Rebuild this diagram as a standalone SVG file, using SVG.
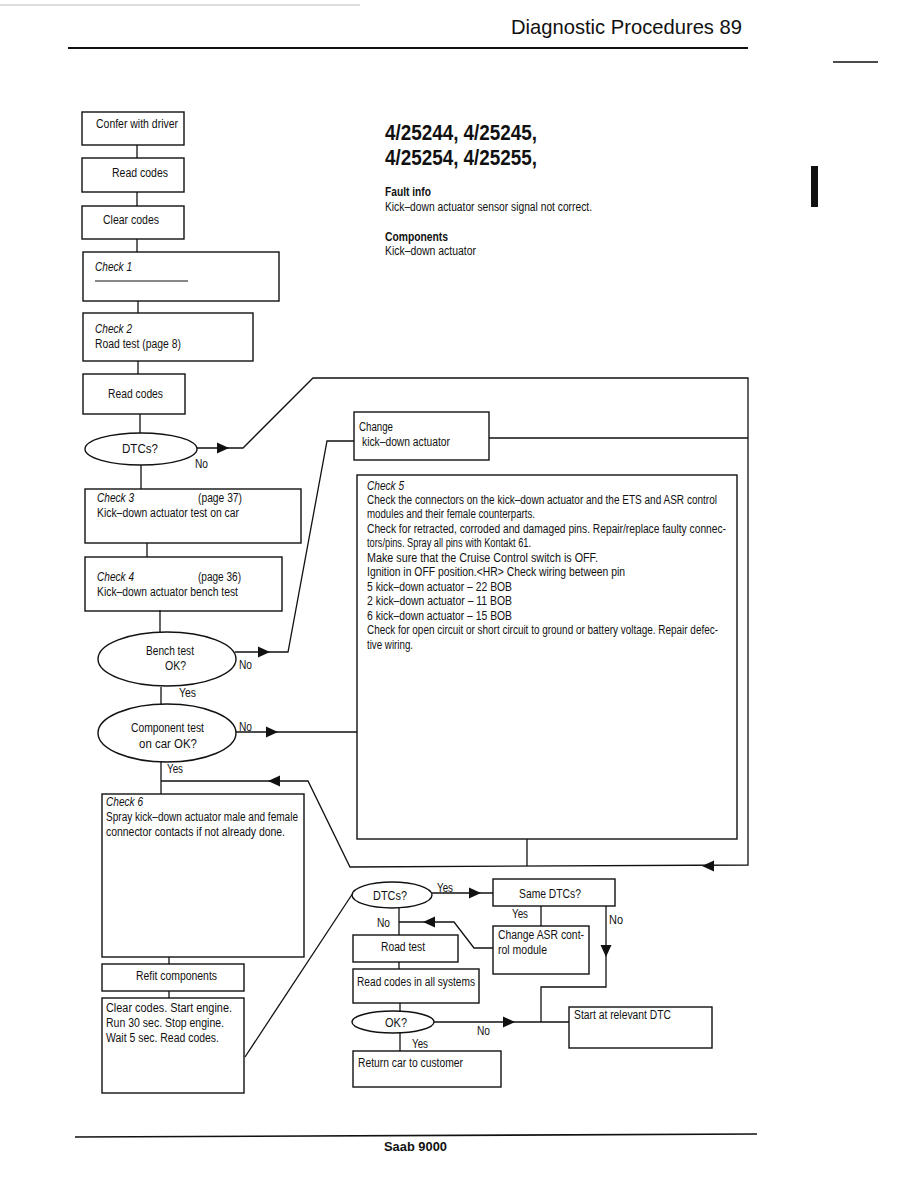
<svg xmlns="http://www.w3.org/2000/svg" xmlns:xlink="http://www.w3.org/1999/xlink" width="918" height="1188" viewBox="0 0 918 1188">
<style>
.bx{fill:none;stroke:#111;stroke-width:1.4}
.ln{fill:none;stroke:#111;stroke-width:1.3}
.t{font-family:"Liberation Sans",Arial,sans-serif;font-size:12.5px;fill:#111}
.i{font-style:italic}
.b{font-weight:bold}
.h{font-size:21.5px}
</style>
<defs>
<path id="ah" d="M0,0 L-12,-5.5 L-12,5.5 Z" fill="#111"/>
</defs>
<rect width="918" height="1188" fill="#fff"/>

<g id="page">
<line x1="0" y1="5" x2="360" y2="5" stroke="#bbb" stroke-width="1"/>
<text class="t" x="511" y="34" style="font-size:21px" textLength="231" lengthAdjust="spacingAndGlyphs">Diagnostic Procedures  89</text>
<line x1="68" y1="48" x2="748" y2="48" stroke="#111" stroke-width="2"/>
<line x1="833" y1="62" x2="878" y2="62" stroke="#111" stroke-width="1.5"/>
<rect x="811" y="166" width="7" height="41" fill="#111"/>
<line x1="75" y1="1137" x2="757" y2="1134" stroke="#111" stroke-width="1.6"/>
<text class="t b" x="384" y="1151" textLength="63" lengthAdjust="spacingAndGlyphs">Saab 9000</text>
</g>

<g id="info">
<text class="t b h" x="385" y="140" textLength="152" lengthAdjust="spacingAndGlyphs">4/25244,  4/25245,</text>
<text class="t b h" x="385" y="165" textLength="152" lengthAdjust="spacingAndGlyphs">4/25254,  4/25255,</text>
<text class="t b" x="385" y="196" textLength="46" lengthAdjust="spacingAndGlyphs">Fault info</text>
<text class="t" x="385" y="211" textLength="207" lengthAdjust="spacingAndGlyphs">Kick–down actuator sensor signal not correct.</text>
<text class="t b" x="385" y="241" textLength="63" lengthAdjust="spacingAndGlyphs">Components</text>
<text class="t" x="385" y="255" textLength="91" lengthAdjust="spacingAndGlyphs">Kick–down actuator</text>
</g>

<g id="connectors">
<polyline class="ln" points="137,145 137,158"/>
<polyline class="ln" points="137,192 137,206"/>
<polyline class="ln" points="137,239 137,252"/>
<polyline class="ln" points="138,301 138,313"/>
<polyline class="ln" points="138,361 138,374"/>
<polyline class="ln" points="140,414 140,433"/>
<polyline class="ln" points="141,465 141,489"/>
<polyline class="ln" points="147,543 147,557"/>
<polyline class="ln" points="160,610 160,632"/>
<polyline class="ln" points="161,687 161,704"/>
<polyline class="ln" points="161,762 161,794"/>
<polyline class="ln" points="169,957 169,964"/>
<polyline class="ln" points="169,991 169,998"/>
<polyline class="ln" points="197,448 243,448 313,378 748,378 748,865 350,867 308,781 161,781"/>
<polyline class="ln" points="489,438 748,438"/>
<polyline class="ln" points="354,441 327,441 288,652 235,652"/>
<polyline class="ln" points="236,732 357,732"/>
<polyline class="ln" points="527,839 527,866"/>
<polyline class="ln" points="245,1057 353,893"/>
<polyline class="ln" points="432,893 493,893"/>
<polyline class="ln" points="541,906 541,926"/>
<polyline class="ln" points="606,906 606,987 541,987 541,1022"/>
<polyline class="ln" points="493,948 474,948 454,922 399,922"/>
<polyline class="ln" points="399,908 399,935"/>
<polyline class="ln" points="399,962 399,969"/>
<polyline class="ln" points="400,1003 400,1012"/>
<polyline class="ln" points="400,1033 400,1051"/>
<polyline class="ln" points="434,1022 569,1022"/>
<use xlink:href="#ah" transform="translate(229,448)"/>
<use xlink:href="#ah" transform="translate(270,652)"/>
<use xlink:href="#ah" transform="translate(278,732)"/>
<use xlink:href="#ah" transform="translate(268,781) rotate(180)"/>
<use xlink:href="#ah" transform="translate(702,866) rotate(180)"/>
<use xlink:href="#ah" transform="translate(481,893)"/>
<use xlink:href="#ah" transform="translate(423,922) rotate(180)"/>
<use xlink:href="#ah" transform="translate(606,957) rotate(90)"/>
<use xlink:href="#ah" transform="translate(515,1022)"/>
<text class="t" x="195" y="468" textLength="13" lengthAdjust="spacingAndGlyphs">No</text>
<text class="t" x="239" y="669" textLength="13" lengthAdjust="spacingAndGlyphs">No</text>
<text class="t" x="179" y="697" textLength="17" lengthAdjust="spacingAndGlyphs">Yes</text>
<text class="t" x="239" y="731" textLength="13" lengthAdjust="spacingAndGlyphs">No</text>
<text class="t" x="167" y="773" textLength="16" lengthAdjust="spacingAndGlyphs">Yes</text>
<text class="t" x="437" y="892" textLength="16" lengthAdjust="spacingAndGlyphs">Yes</text>
<text class="t" x="512" y="918" textLength="16" lengthAdjust="spacingAndGlyphs">Yes</text>
<text class="t" x="609" y="924" textLength="14" lengthAdjust="spacingAndGlyphs">No</text>
<text class="t" x="377" y="927" textLength="13" lengthAdjust="spacingAndGlyphs">No</text>
<text class="t" x="477" y="1035" textLength="13" lengthAdjust="spacingAndGlyphs">No</text>
<text class="t" x="412" y="1048" textLength="16" lengthAdjust="spacingAndGlyphs">Yes</text>
</g>

<g id="n_confer"><rect class="bx" x="82" y="112" width="102" height="33"/><text class="t" x="96" y="128" textLength="82" lengthAdjust="spacingAndGlyphs">Confer with driver</text></g>
<g id="n_read1"><rect class="bx" x="82" y="158" width="102" height="34"/><text class="t" x="112" y="177" textLength="56" lengthAdjust="spacingAndGlyphs">Read codes</text></g>
<g id="n_clear"><rect class="bx" x="82" y="206" width="102" height="33"/><text class="t" x="103" y="224" textLength="56" lengthAdjust="spacingAndGlyphs">Clear codes</text></g>
<g id="n_check1"><rect class="bx" x="83" y="252" width="196" height="49"/><text class="t i" x="95" y="271" textLength="37" lengthAdjust="spacingAndGlyphs">Check 1</text><line x1="95" y1="281" x2="188" y2="281" stroke="#111" stroke-width="1"/></g>
<g id="n_check2"><rect class="bx" x="83" y="313" width="170" height="48"/><text class="t i" x="95" y="333" textLength="37" lengthAdjust="spacingAndGlyphs">Check 2</text><text class="t" x="95" y="348" textLength="86" lengthAdjust="spacingAndGlyphs">Road test (page 8)</text></g>
<g id="n_read2"><rect class="bx" x="83" y="374" width="102" height="40"/><text class="t" x="108" y="398" textLength="55" lengthAdjust="spacingAndGlyphs">Read codes</text></g>
<g id="n_dtc1"><ellipse class="bx" cx="141" cy="449" rx="56" ry="16"/><text class="t" x="122" y="453" textLength="36" lengthAdjust="spacingAndGlyphs">DTCs?</text></g>
<g id="n_check3"><rect class="bx" x="85" y="489" width="216" height="54"/><text class="t i" x="97" y="502" textLength="37" lengthAdjust="spacingAndGlyphs">Check 3</text><text class="t" x="198" y="502" textLength="44" lengthAdjust="spacingAndGlyphs">(page 37)</text><text class="t" x="97" y="517" textLength="142" lengthAdjust="spacingAndGlyphs">Kick–down actuator test on car</text></g>
<g id="n_check4"><rect class="bx" x="85" y="557" width="197" height="54"/><text class="t i" x="97" y="581" textLength="37" lengthAdjust="spacingAndGlyphs">Check 4</text><text class="t" x="198" y="581" textLength="43" lengthAdjust="spacingAndGlyphs">(page 36)</text><text class="t" x="97" y="596" textLength="141" lengthAdjust="spacingAndGlyphs">Kick–down actuator bench test</text></g>
<g id="n_bench"><ellipse class="bx" cx="167" cy="659" rx="69" ry="27"/><text class="t" x="146" y="655" textLength="48" lengthAdjust="spacingAndGlyphs">Bench test</text><text class="t" x="165" y="670" textLength="21" lengthAdjust="spacingAndGlyphs">OK?</text></g>
<g id="n_comp"><ellipse class="bx" cx="167" cy="733" rx="69" ry="29"/><text class="t" x="131" y="732" textLength="73" lengthAdjust="spacingAndGlyphs">Component test</text><text class="t" x="139" y="748" textLength="58" lengthAdjust="spacingAndGlyphs">on car  OK?</text></g>
<g id="n_check6"><rect class="bx" x="102" y="794" width="202" height="163"/><text class="t i" x="106" y="806" textLength="37" lengthAdjust="spacingAndGlyphs">Check 6</text><text class="t" x="106" y="821" textLength="192" lengthAdjust="spacingAndGlyphs">Spray kick–down actuator male and female</text><text class="t" x="106" y="836" textLength="179" lengthAdjust="spacingAndGlyphs">connector contacts if not already done.</text></g>
<g id="n_refit"><rect class="bx" x="102" y="964" width="142" height="27"/><text class="t" x="136" y="980" textLength="81" lengthAdjust="spacingAndGlyphs">Refit components</text></g>
<g id="n_clearstart"><rect class="bx" x="102" y="998" width="142" height="95"/><text class="t" x="106" y="1012" textLength="126" lengthAdjust="spacingAndGlyphs">Clear codes. Start engine.</text><text class="t" x="106" y="1027" textLength="118" lengthAdjust="spacingAndGlyphs">Run 30 sec. Stop engine.</text><text class="t" x="106" y="1042" textLength="113" lengthAdjust="spacingAndGlyphs">Wait 5 sec. Read codes.</text></g>
<g id="n_change"><rect class="bx" x="354" y="412" width="135" height="48"/><text class="t" x="359" y="431" textLength="34" lengthAdjust="spacingAndGlyphs">Change</text><text class="t" x="362" y="446" textLength="88" lengthAdjust="spacingAndGlyphs">kick–down actuator</text></g>
<g id="n_check5"><rect class="bx" x="357" y="475" width="380" height="364"/>
<text class="t i" x="367" y="490" textLength="37" lengthAdjust="spacingAndGlyphs">Check 5</text>
<text class="t" x="367" y="504" textLength="350" lengthAdjust="spacingAndGlyphs">Check the connectors on the kick–down actuator and the ETS and ASR control</text>
<text class="t" x="367" y="518" textLength="168" lengthAdjust="spacingAndGlyphs">modules and their female counterparts.</text>
<text class="t" x="367" y="533" textLength="359" lengthAdjust="spacingAndGlyphs">Check for retracted, corroded and damaged pins. Repair/replace faulty connec-</text>
<text class="t" x="367" y="547" textLength="164" lengthAdjust="spacingAndGlyphs">tors/pins. Spray all pins with Kontakt 61.</text>
<text class="t" x="367" y="562" textLength="231" lengthAdjust="spacingAndGlyphs">Make sure that the Cruise Control switch is OFF.</text>
<text class="t" x="367" y="576" textLength="258" lengthAdjust="spacingAndGlyphs">Ignition in OFF position.&lt;HR&gt; Check wiring between pin</text>
<text class="t" x="367" y="591" textLength="145" lengthAdjust="spacingAndGlyphs">5 kick–down actuator – 22 BOB</text>
<text class="t" x="367" y="605" textLength="145" lengthAdjust="spacingAndGlyphs">2 kick–down actuator – 11 BOB</text>
<text class="t" x="367" y="620" textLength="145" lengthAdjust="spacingAndGlyphs">6 kick–down actuator – 15 BOB</text>
<text class="t" x="367" y="634" textLength="351" lengthAdjust="spacingAndGlyphs">Check for open circuit or short circuit to ground or battery voltage. Repair defec-</text>
<text class="t" x="367" y="649" textLength="46" lengthAdjust="spacingAndGlyphs">tive wiring.</text>
</g>
<g id="n_dtc2"><ellipse class="bx" cx="392" cy="895" rx="40" ry="13"/><text class="t" x="373" y="900" textLength="34" lengthAdjust="spacingAndGlyphs">DTCs?</text></g>
<g id="n_same"><rect class="bx" x="493" y="879" width="122" height="27"/><text class="t" x="519" y="898" textLength="62" lengthAdjust="spacingAndGlyphs">Same DTCs?</text></g>
<g id="n_asr"><rect class="bx" x="493" y="926" width="96" height="48"/><text class="t" x="498" y="939" textLength="86" lengthAdjust="spacingAndGlyphs">Change ASR cont-</text><text class="t" x="498" y="954" textLength="49" lengthAdjust="spacingAndGlyphs">rol module</text></g>
<g id="n_road"><rect class="bx" x="353" y="935" width="105" height="27"/><text class="t" x="381" y="951" textLength="44" lengthAdjust="spacingAndGlyphs">Road test</text></g>
<g id="n_readall"><rect class="bx" x="353" y="969" width="126" height="34"/><text class="t" x="357" y="986" textLength="118" lengthAdjust="spacingAndGlyphs">Read codes in all systems</text></g>
<g id="n_ok"><ellipse class="bx" cx="393" cy="1022" rx="41" ry="11"/><text class="t" x="385" y="1027" textLength="22" lengthAdjust="spacingAndGlyphs">OK?</text></g>
<g id="n_return"><rect class="bx" x="353" y="1051" width="148" height="36"/><text class="t" x="358" y="1067" textLength="105" lengthAdjust="spacingAndGlyphs">Return car to customer</text></g>
<g id="n_start"><rect class="bx" x="569" y="1007" width="143" height="41"/><text class="t" x="574" y="1019" textLength="97" lengthAdjust="spacingAndGlyphs">Start at relevant DTC</text></g>
</svg>
